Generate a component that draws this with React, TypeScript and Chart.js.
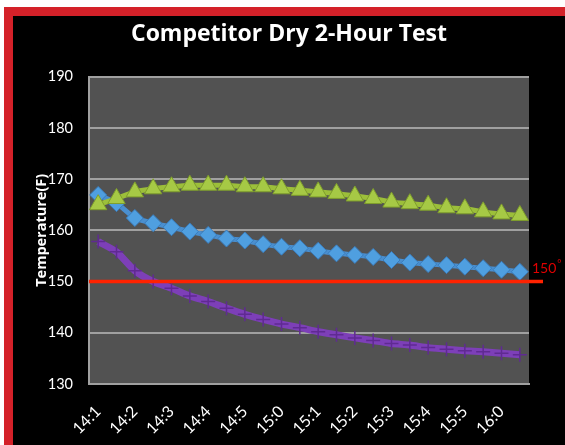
import React, { useEffect, useRef } from 'react';
import { Chart, registerables } from 'chart.js';

Chart.register(...registerables);

// ---- data ----
const chartTitle = 'Competitor Dry 2-Hour Test';
const yAxisTitle = 'Temperature(F)';
const times = [
  '14:10', '14:15', '14:20', '14:25', '14:30', '14:35', '14:40', '14:45',
  '14:50', '14:55', '15:00', '15:05', '15:10', '15:15', '15:20', '15:25',
  '15:30', '15:35', '15:40', '15:45', '15:50', '15:55', '16:00', '16:05',
];
const xTickLabels = ['14:1', '14:2', '14:3', '14:4', '14:5', '15:0', '15:1', '15:2', '15:3', '15:4', '15:5', '16:0'];
const greenValues = [
  165.0, 166.2, 167.5, 168.1, 168.5, 168.8, 168.8, 168.8, 168.5, 168.5, 168.1, 167.8,
  167.5, 167.2, 166.7, 166.2, 165.5, 165.2, 164.9, 164.4, 164.2, 163.6, 163.2, 162.9,
];
const blueValues = [
  166.9, 165.3, 162.4, 161.4, 160.6, 159.75, 159.1, 158.4, 158.0, 157.3, 156.8, 156.5,
  156.0, 155.5, 155.2, 154.8, 154.2, 153.7, 153.4, 153.2, 152.9, 152.6, 152.3, 151.9,
];
const purpleValues = [
  157.8, 155.8, 152.1, 150.0, 148.7, 147.2, 146.1, 144.8, 143.6, 142.6, 141.7, 141.0,
  140.2, 139.6, 139.0, 138.5, 137.9, 137.6, 137.1, 136.8, 136.5, 136.3, 136.0, 135.7,
];
const yMin = 130;
const yMax = 190;
const yStep = 10;
const limitValue = 150;
const limitLabel = '150';
const degreeMark = '°';

const plotBg = {
  id: 'plotBg',
  beforeDraw(chart: any) {
    const { ctx, chartArea: a } = chart;
    ctx.save();
    ctx.fillStyle = '#525252';
    ctx.fillRect(a.left, a.top, a.right - a.left, a.bottom - a.top);
    ctx.restore();
  },
};

const limitLine = {
  id: 'limitLine',
  afterDatasetsDraw(chart: any) {
    const { ctx, chartArea: a } = chart;
    const y = chart.scales.y.getPixelForValue(limitValue);
    ctx.save();
    ctx.strokeStyle = '#ff2200';
    ctx.lineWidth = 3.5;
    ctx.beginPath();
    ctx.moveTo(a.left, y);
    ctx.lineTo(a.right + 14, y);
    ctx.stroke();
    ctx.fillStyle = '#e00000';
    ctx.textAlign = 'left';
    ctx.textBaseline = 'alphabetic';
    ctx.font = '14px Lato';
    ctx.fillText(limitLabel, a.right + 3, y - 8.5);
    const w = ctx.measureText(limitLabel).width;
    ctx.font = '10px Lato';
    ctx.fillText(degreeMark, a.right + 4 + w, y - 15);
    ctx.restore();
  },
};

export default function App() {
  const ref = useRef<HTMLCanvasElement | null>(null);

  useEffect(() => {
    if (!ref.current) return;
    const chart = new Chart(ref.current, {
      type: 'line',
      data: {
        labels: times,
        datasets: [
          {
            label: 'A',
            data: greenValues,
            borderColor: '#9cbf3a',
            borderWidth: 5,
            backgroundColor: '#a6c945',
            pointStyle: 'triangle',
            pointRadius: 10,
            pointBorderColor: '#7f9e2c',
            pointBorderWidth: 1,
            tension: 0.2,
          },
          {
            label: 'B',
            data: blueValues,
            borderColor: '#4a8fcf',
            borderWidth: 5,
            backgroundColor: '#4f9fe0',
            pointStyle: 'rectRot',
            pointRadius: 8.5,
            pointBorderColor: '#3a7cbc',
            pointBorderWidth: 1,
            tension: 0.2,
          },
          {
            label: 'C',
            data: purpleValues,
            borderColor: '#7d3fb8',
            borderWidth: 7,
            backgroundColor: '#7d3fb8',
            pointStyle: 'cross',
            pointRadius: 7,
            pointBorderColor: '#5f2a92',
            pointBorderWidth: 1.5,
            tension: 0.2,
          },
        ],
      },
      options: {
        responsive: false,
        animation: false,
        layout: { padding: { left: 0, right: 0, top: 0, bottom: 0 } },
        plugins: {
          legend: { display: false },
          tooltip: { enabled: false },
          title: {
            display: true,
            text: chartTitle,
            color: '#ffffff',
            font: { family: 'Open Sans', size: 23, weight: 'bold', lineHeight: 1.2 },
            padding: { top: 5, bottom: 28 },
          },
        },
        scales: {
          x: {
            offset: true,
            grid: { display: false, drawTicks: false },
            border: { display: true, color: '#a0a0a0', width: 2 },
            ticks: {
              autoSkip: false,
              maxRotation: 45,
              minRotation: 45,
              color: '#ffffff',
              font: { family: 'Lato', size: 16 },
              padding: 18,
              callback: (_v: any, i: number) => (i % 2 === 0 ? xTickLabels[i / 2] : ''),
            },
            afterFit: (s: any) => {
              s.height = 61;
            },
          },
          y: {
            min: yMin,
            max: yMax,
            ticks: {
              stepSize: yStep,
              color: '#ffffff',
              font: { family: 'Lato', size: 14.5 },
              padding: 16,
            },
            grid: { color: '#a0a0a0', lineWidth: 2, drawTicks: false },
            border: { display: true, color: '#a0a0a0', width: 2 },
            title: {
              display: true,
              text: yAxisTitle,
              color: '#ffffff',
              font: { family: 'Open Sans', size: 14.5, weight: 'bold' },
              padding: { top: 20, bottom: 0 },
            },
            afterFit: (s: any) => {
              s.width = 76;
            },
          },
          yRight: {
            position: 'right',
            display: true,
            min: yMin,
            max: yMax,
            grid: { display: false, drawTicks: false },
            border: { display: false },
            ticks: { display: false },
            afterFit: (s: any) => {
              s.width = 36;
            },
          },
        },
      },
      plugins: [plotBg, limitLine],
    } as any);
    return () => chart.destroy();
  }, []);

  return (
    <div style={{ position: 'fixed', left: 0, top: 0, width: 565, height: 445, background: '#000000', overflow: 'hidden' }}>
      <div style={{ position: 'absolute', left: 0, top: 0, width: 565, height: 7, background: '#ffffff' }} />
      <div style={{ position: 'absolute', left: 0, top: 0, width: 4, height: 445, background: '#ffffff' }} />
      <div style={{ position: 'absolute', left: 4, top: 7, width: 561, height: 9, background: '#d42129' }} />
      <div style={{ position: 'absolute', left: 4, top: 7, width: 9, height: 438, background: '#d42129' }} />
      <div style={{ position: 'absolute', left: 13, top: 16, width: 552, height: 429, background: '#000000' }}>
        <canvas ref={ref} width={552} height={429} style={{ display: 'block' }} />
      </div>
    </div>
  );
}
